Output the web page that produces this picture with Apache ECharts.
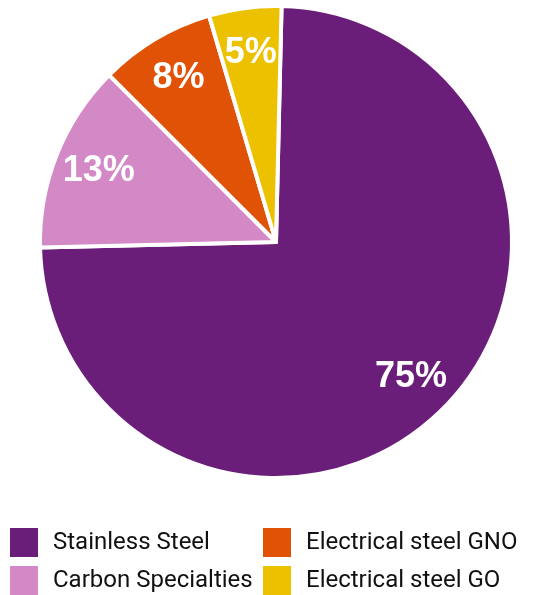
<!DOCTYPE html>
<html>
<head>
<meta charset="utf-8">
<script src="https://cdn.jsdelivr.net/npm/echarts@6/dist/echarts.min.js"></script>
<style>
  html, body { margin: 0; padding: 0; background: #ffffff; }
  #chart { width: 554px; height: 595px; }
</style>
</head>
<body>
<div id="chart"></div>
<script>
// Product mix shares (percent)
const categories = ['Stainless Steel', 'Carbon Specialties', 'Electrical steel GNO', 'Electrical steel GO'];
const shares = [75, 13, 8, 5];
const colors = ['#6a1e79', '#d389c6', '#e05307', '#ecc200'];

const pieData = categories.map((name, i) => ({ name, value: shares[i], itemStyle: { color: colors[i] } }));

const chart = echarts.init(document.getElementById('chart'), null, { renderer: 'canvas' });

// Legend laid out as a 2x2 grid: one legend block per entry
const legendCols = [8, 261];
const legendRows = [526, 564];
const legends = categories.map((name, i) => ({
  left: legendCols[Math.floor(i / 2)],
  top: legendRows[i % 2],
  padding: 0,
  itemWidth: 30,
  itemHeight: 31,
  icon: 'rect',
  selectedMode: false,
  textStyle: {
    fontFamily: 'Roboto',
    fontSize: 24,
    color: '#111111',
    padding: [0, 0, 0, 9]
  },
  data: [name]
}));

const START_ANGLE = 88.65;

chart.setOption({
  animation: false,
  legend: legends,
  series: [
    {
      // the slices
      type: 'pie',
      center: [276, 242],
      radius: [0, 236],
      startAngle: START_ANGLE,
      clockwise: true,
      silent: true,
      label: { show: false },
      labelLine: { show: false },
      itemStyle: { borderColor: '#ffffff', borderWidth: 4 },
      data: pieData
    },
    {
      // transparent ring that carries the value labels near the rim
      type: 'pie',
      center: [276, 242],
      radius: [140, 236],
      startAngle: START_ANGLE,
      clockwise: true,
      silent: true,
      legendHoverLink: false,
      itemStyle: { color: 'rgba(0,0,0,0)', borderWidth: 0 },
      label: {
        show: true,
        position: 'inside',
        formatter: p => p.value + '%',
        color: '#ffffff',
        fontFamily: 'Liberation Sans',
        fontWeight: 'bold',
        fontSize: 36
      },
      labelLine: { show: false },
      data: categories.map((name, i) => ({ name, value: shares[i] }))
    }
  ]
});
</script>
</body>
</html>
